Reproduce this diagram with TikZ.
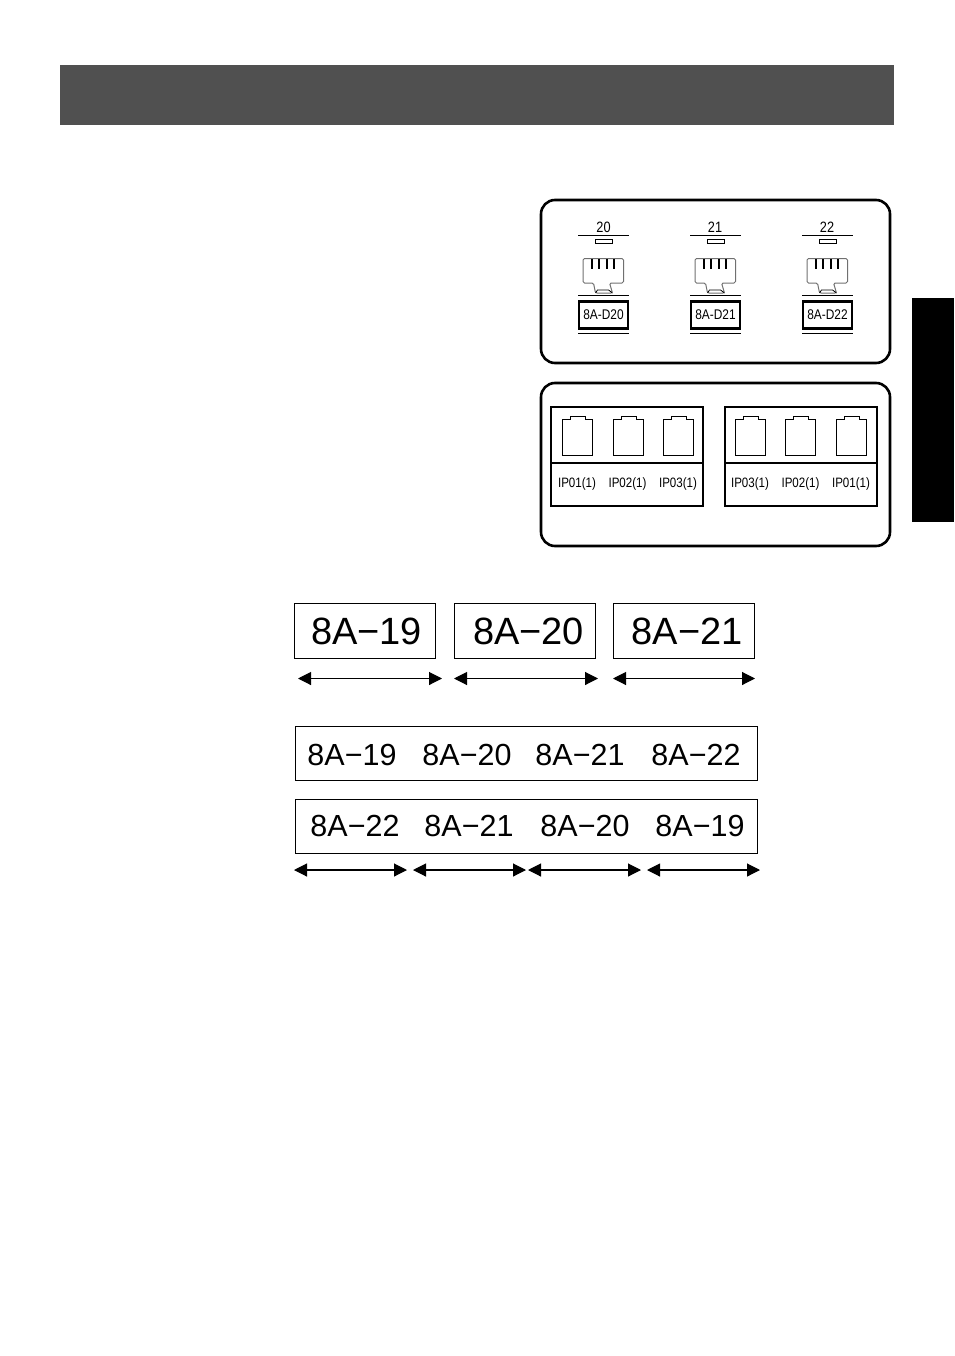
\documentclass[tikz,border=0pt]{standalone}
\usepackage{fontspec}
\setmainfont{Liberation Sans}
\newfontfamily\narrowfont[FakeStretch=0.85]{Liberation Sans}
\usetikzlibrary{arrows.meta}
\definecolor{headgray}{HTML}{505050}
\definecolor{plugray}{HTML}{707070}
\tikzset{
  frame/.style={draw, line width=2.6pt, rounded corners=14pt, minimum width=349pt, minimum height=163pt, inner sep=0pt},
  panel/.style={draw, line width=2pt, minimum width=152pt, inner sep=0pt},
  tagbox/.style={draw, line width=2.8pt, minimum width=49pt, minimum height=27pt, inner sep=0pt, font=\narrowfont\fontsize{14}{14}\selectfont},
  portnum/.style={inner sep=0pt, font=\narrowfont\fontsize{15}{15}\selectfont},
  portlab/.style={inner sep=0pt, font=\narrowfont\fontsize{13.6}{14}\selectfont},
  labelbox/.style={draw, line width=0.8pt, minimum width=141pt, minimum height=55pt, inner sep=0pt},
  stripbox/.style={draw, line width=0.9pt, minimum width=462pt, minimum height=54pt, inner sep=0pt},
  bigtext/.style={inner sep=0pt, font=\fontsize{38}{38}\selectfont},
  striptext/.style={inner sep=0pt, font=\fontsize{30.5}{31}\selectfont},
  span/.style={<->, line width=1.1pt},
  rule/.style={line width=0.7pt},
  plug/.pic={
    \draw[plugray, line width=1pt, rounded corners=1.5pt] (-20.5,-18.5) -- (20,-18.5) -- (20,6) -- (6,6) -- (9,16) -- (-8,16) -- (-10,6) -- (-20.5,6) -- cycle;
    \draw[line width=1.1pt] (-11.5,-18) -- (-11.5,-8) (-4.5,-18) -- (-4.5,-8) (3.5,-18) -- (3.5,-8) (10.5,-18) -- (10.5,-8);
    \draw[line width=0.8pt] (-8,16) -- (-6,13) -- (5,13) -- (9,16);
  },
  socket/.pic={
    \draw[line width=0.8pt] (0,3.3) -- (8,3.3) -- (8,0) -- (23,0) -- (23,3.3) -- (30.5,3.3) -- (30.5,39) -- (0,39) -- cycle;
  }
}
\begin{document}
\begin{tikzpicture}[x=1pt, y=-1pt, >={Triangle[length=13pt, width=13pt]}]
\useasboundingbox (0,0) rectangle (954,1356);
\fill[headgray] (60,65) rectangle (894,125);
\fill[black] (912,298) rectangle (954,522);
% punch-down block
\node[frame] (top) at (715.5,281.5) {};
\node[portnum] (n20) at (603.5,227) {20};
\node[portnum] (n21) at (715,227) {21};
\node[portnum] (n22) at (827,227) {22};
\draw[rule] (578,235.5) -- (629,235.5);
\draw[rule] (690,235.5) -- (741,235.5);
\draw[rule] (802,235.5) -- (853,235.5);
\draw[line width=0.8pt] (595,239) rectangle (612,243);
\draw[line width=0.8pt] (707,239) rectangle (724,243);
\draw[line width=0.8pt] (819,239) rectangle (836,243);
\pic at (603.5,277) {plug};
\pic at (715.5,277) {plug};
\pic at (827.5,277) {plug};
\draw[rule] (578,295) -- (629,295);
\draw[rule] (690,295) -- (741,295);
\draw[rule] (802,295) -- (853,295);
\node[tagbox] (d20) at (603.5,315) {8A-D20};
\node[tagbox] (d21) at (715.5,315) {8A-D21};
\node[tagbox] (d22) at (827.5,315) {8A-D22};
\draw[rule] (578,333) -- (629,333);
\draw[rule] (690,333) -- (741,333);
\draw[rule] (802,333) -- (853,333);
% patch panels
\node[frame] (bottom) at (715.5,464.5) {};
\node[panel, minimum height=56pt] (leftup) at (627,435) {};
\node[panel, minimum height=43pt, line width=2.6pt] (leftlow) at (627,484.5) {};
\node[panel, minimum height=56pt] (rightup) at (801,435) {};
\node[panel, minimum height=43pt, line width=2.6pt] (rightlow) at (801,484.5) {};
\pic at (562.3,416) {socket};
\pic at (613,416) {socket};
\pic at (663,416) {socket};
\pic at (735,416) {socket};
\pic at (785,416) {socket};
\pic at (836,416) {socket};
\node[portlab] (l1) at (577,484) {IP01(1)};
\node[portlab] (l2) at (627.5,484) {IP02(1)};
\node[portlab] (l3) at (678,484) {IP03(1)};
\node[portlab] (r3) at (750,484) {IP03(1)};
\node[portlab] (r2) at (800.5,484) {IP02(1)};
\node[portlab] (r1) at (851,484) {IP01(1)};
% separate labels
\node[labelbox] (a) at (365,631) {};
\node[labelbox] (b) at (524.5,631) {};
\node[labelbox] (c) at (684,631) {};
\node[bigtext] (at) at (366.5,631) {8A−19};
\node[bigtext] (bt) at (528.5,631) {8A−20};
\node[bigtext] (ct) at (687,631) {8A−21};
\coordinate (a1) at (298,678.5);
\coordinate (a2) at (442,678.5);
\coordinate (b1) at (454,678.5);
\coordinate (b2) at (598,678.5);
\coordinate (c1) at (613,678.5);
\coordinate (c2) at (755,678.5);
\draw[span] (a1) -- (a2);
\draw[span] (b1) -- (b2);
\draw[span] (c1) -- (c2);
% strips
\node[stripbox] (s) at (526,753) {};
\node[striptext] (s1) at (352,755) {8A−19};
\node[striptext] (s2) at (467,755) {8A−20};
\node[striptext] (s3) at (580,755) {8A−21};
\node[striptext] (s4) at (696,755) {8A−22};
\node[stripbox] (t) at (526,826) {};
\node[striptext] (t1) at (355,826) {8A−22};
\node[striptext] (t2) at (469,826) {8A−21};
\node[striptext] (t3) at (585,826) {8A−20};
\node[striptext] (t4) at (700,826) {8A−19};
\coordinate (e1) at (294,870);
\coordinate (e2) at (407,870);
\coordinate (f1) at (413,870);
\coordinate (f2) at (526,870);
\coordinate (g1) at (528,870);
\coordinate (g2) at (641,870);
\coordinate (h1) at (647,870);
\coordinate (h2) at (760,870);
\draw[span] (e1) -- (e2);
\draw[span] (f1) -- (f2);
\draw[span] (g1) -- (g2);
\draw[span] (h1) -- (h2);
\end{tikzpicture}
\end{document}
